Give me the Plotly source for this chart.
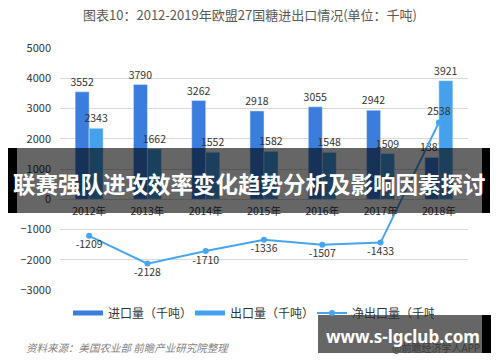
import plotly.graph_objects as go

years = ["2012年", "2013年", "2014年", "2015年", "2016年", "2017年", "2018年"]
imports = [3552, 3790, 3262, 2918, 3055, 2942, 1383]
exports = [2343, 1662, 1552, 1582, 1548, 1509, 3921]
net_exports = [-1209, -2128, -1710, -1336, -1507, -1433, 2538]

title_text = "图表10：2012-2019年欧盟27国糖进出口情况(单位：千吨)"
source_text = "资料来源：美国农业部 前瞻产业研究院整理"
banner_text = "联赛强队进攻效率变化趋势分析及影响因素探讨"
site_text = "www.s-lgclub.com"
app_text = "@前瞻经济学人APP"

C_IMP = "#3b7ddd"
C_EXP = "#45a1ec"
C_NET = "#45a5f0"
FONT = "Noto Sans CJK SC"

W, H = 500, 362
L, R, T, B = 60, 32, 48, 72
PW, PH = W - L - R, H - T - B


def px_x(px):
    return (px - L) / PW


def px_y(py):
    return (H - B - py) / PH


fig = go.Figure()
fig.add_trace(go.Bar(x=years, y=imports, name="进口量（千吨）", marker_color=C_IMP,
                     text=imports, textposition="outside", cliponaxis=False, constraintext="none",
                     textfont=dict(size=10.5, color="#333333"), showlegend=False))
fig.add_trace(go.Bar(x=years, y=exports, name="出口量（千吨）", marker_color=C_EXP,
                     text=exports, textposition="outside", cliponaxis=False, constraintext="none",
                     textfont=dict(size=10.5, color="#333333"), showlegend=False))
fig.add_trace(go.Scatter(x=[None], y=[None], mode="lines", name="进口量（千吨）",
                         line=dict(color=C_IMP, width=5)))
fig.add_trace(go.Scatter(x=[None], y=[None], mode="lines", name="出口量（千吨）",
                         line=dict(color=C_EXP, width=5)))
fig.add_trace(go.Scatter(x=years, y=net_exports, mode="lines+markers+text", name="净出口量（千吨）",
                         line=dict(color=C_NET, width=2), marker=dict(size=6, color=C_NET),
                         text=net_exports, cliponaxis=False,
                         textposition=["bottom center"] * 6 + ["top center"],
                         textfont=dict(size=10.5, color="#333333")))

shapes = [
    dict(type="rect", xref="paper", yref="paper", x0=px_x(8), x1=px_x(490), y0=px_y(213), y1=px_y(148),
         fillcolor="rgba(0,0,0,0.6)", line_width=0, layer="above"),
    dict(type="rect", xref="paper", yref="paper", x0=px_x(8), x1=px_x(17), y0=px_y(213), y1=px_y(148),
         fillcolor="rgba(0,0,0,1)", line_width=0, layer="above"),
    dict(type="rect", xref="paper", yref="paper", x0=px_x(482), x1=px_x(490), y0=px_y(213), y1=px_y(148),
         fillcolor="rgba(0,0,0,1)", line_width=0, layer="above"),
    dict(type="rect", xref="paper", yref="paper", x0=px_x(318), x1=px_x(491), y0=px_y(353), y1=px_y(315),
         fillcolor="rgba(0,0,0,0.6)", line_width=0, layer="above"),
    dict(type="rect", xref="paper", yref="paper", x0=px_x(482), x1=px_x(491), y0=px_y(353), y1=px_y(315),
         fillcolor="rgba(0,0,0,1)", line_width=0, layer="above"),
]

annotations = [
    dict(text=source_text, xref="paper", yref="paper", x=px_x(24), y=px_y(347), xanchor="left",
         yanchor="middle", showarrow=False, font=dict(size=10.5, color="#7f7f7f", style="italic")),
    dict(text=app_text, xref="paper", yref="paper", x=px_x(390), y=px_y(347), xanchor="left",
         yanchor="middle", showarrow=False, font=dict(size=10, color="#3c3c3c")),
    dict(text="<b>" + banner_text + "</b>", xref="paper", yref="paper", x=px_x(249), y=px_y(183),
         xanchor="center", yanchor="middle", showarrow=False, font=dict(size=22.5, color="white", family=FONT)),
    dict(text="<b>" + site_text + "</b>", xref="paper", yref="paper", x=px_x(403), y=px_y(336),
         xanchor="center", yanchor="middle", showarrow=False, font=dict(size=17, color="white", family="Noto Sans")),
]

fig.update_layout(
    width=W, height=H,
    margin=dict(l=L, r=R, t=T, b=B, autoexpand=False),
    paper_bgcolor="white", plot_bgcolor="white",
    font=dict(family=FONT, color="#333333", size=10),
    title=dict(text=title_text, x=0.5, xref="container", y=1 - 15 / H, yref="container",
               xanchor="center", yanchor="middle", font=dict(size=13, color="#595959")),
    barmode="group", bargap=0.52, bargroupgap=0,
    xaxis=dict(anchor="free", position=0.375, showline=False, ticks="", showgrid=False,
               tickfont=dict(size=10.5, color="#333333"), ticklabelstandoff=4),
    yaxis=dict(range=[-3000, 5000], dtick=1000, showgrid=True, gridcolor="#d9d9d9", gridwidth=1,
               zeroline=True, zerolinecolor="#d9d9d9", zerolinewidth=1, showline=False,
               tickfont=dict(size=11, color="#333333"), ticklabelstandoff=8),
    legend=dict(orientation="h", x=px_x(68), y=px_y(313), xanchor="left", yanchor="middle",
                font=dict(size=12, color="#333333"), entrywidth=77, bgcolor="rgba(0,0,0,0)"),
    shapes=shapes,
    annotations=annotations,
)

fig.write_html("out.html", config={"displayModeBar": False},
               post_script="document.body.style.margin='0px';")
